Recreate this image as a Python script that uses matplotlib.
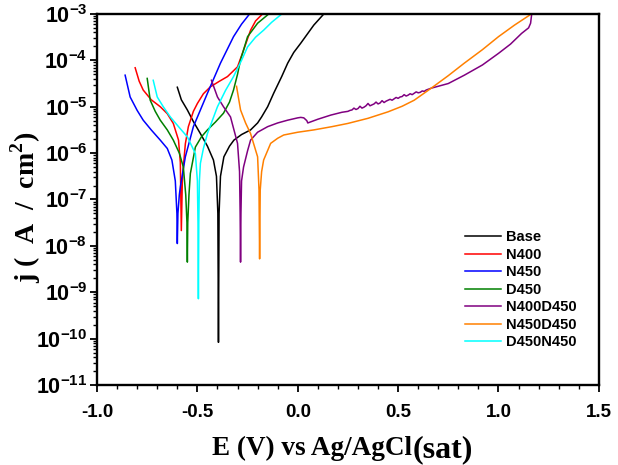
import matplotlib
matplotlib.use('Agg')
import matplotlib.pyplot as plt
from matplotlib.ticker import FixedLocator, MultipleLocator, FuncFormatter, LogLocator, NullFormatter
import numpy as np

plt.rcParams['font.family'] = ['Liberation Sans', 'DejaVu Sans']
plt.rcParams['mathtext.fontset'] = 'custom'
plt.rcParams['mathtext.sf'] = 'Liberation Sans:bold'
plt.rcParams['mathtext.bf'] = 'Liberation Serif:bold'
plt.rcParams['mathtext.rm'] = 'Liberation Serif:bold'

# potential (V) and log10 of current density for each sample
base_E = [-0.60,-0.58,-0.55,-0.52,-0.485,-0.45,-0.42,-0.405,-0.398,-0.395,-0.392,-0.385,-0.368,-0.34,-0.318,-0.28,-0.235,-0.20,-0.18,-0.15,-0.12,-0.08,-0.05,-0.02,0.015,0.05,0.08,0.13]
base_lj = [-4.58,-4.85,-5.07,-5.32,-5.58,-5.85,-6.15,-6.5,-7.3,-10.08,-7.3,-6.5,-6.08,-5.85,-5.72,-5.6,-5.5,-5.35,-5.22,-5.0,-4.71,-4.35,-4.06,-3.83,-3.63,-3.42,-3.24,-3.0]

n400_E = [-0.81,-0.79,-0.77,-0.73,-0.685,-0.65,-0.62,-0.594,-0.585,-0.58,-0.575,-0.57,-0.56,-0.545,-0.52,-0.50,-0.47,-0.435,-0.39,-0.35,-0.30,-0.27,-0.235,-0.21,-0.18]
n400_lj = [-4.16,-4.45,-4.64,-4.85,-5.0,-5.15,-5.36,-5.72,-6.2,-7.67,-6.6,-6.3,-5.8,-5.43,-5.1,-4.93,-4.72,-4.57,-4.45,-4.35,-4.14,-3.78,-3.35,-3.15,-3.02]

n450_E = [-0.86,-0.835,-0.80,-0.77,-0.73,-0.685,-0.65,-0.627,-0.61,-0.602,-0.60,-0.597,-0.59,-0.585,-0.56,-0.52,-0.45,-0.385,-0.32,-0.28,-0.24]
n450_lj = [-4.32,-4.79,-5.08,-5.29,-5.5,-5.72,-5.9,-6.15,-6.6,-7.3,-7.95,-7.3,-6.9,-6.73,-6.08,-5.43,-4.71,-4.06,-3.49,-3.22,-3.0]

d450_E = [-0.75,-0.735,-0.71,-0.685,-0.65,-0.62,-0.59,-0.57,-0.558,-0.552,-0.55,-0.548,-0.542,-0.535,-0.51,-0.48,-0.45,-0.41,-0.37,-0.34,-0.32,-0.30,-0.285,-0.25,-0.20,-0.15]
d450_lj = [-4.39,-4.86,-5.1,-5.29,-5.5,-5.72,-6.0,-6.3,-6.9,-7.5,-8.35,-7.5,-6.9,-6.44,-5.87,-5.65,-5.5,-5.33,-5.14,-4.9,-4.64,-4.3,-3.99,-3.49,-3.2,-3.02]

n400d450_E = [-0.43,-0.40,-0.37,-0.335,-0.30,-0.29,-0.287,-0.285,-0.283,-0.28,-0.27,-0.25,-0.235,-0.20,-0.15,-0.10,-0.05,0.0,0.015,0.03,0.045,0.05,0.10,0.165,0.22,
              0.25,0.26,0.27,0.28,0.29,0.30,0.31,0.32,0.33,0.34,0.35,0.36,0.37,0.38,0.39,0.40,0.41,0.42,0.43,0.44,0.45,0.46,0.47,0.48,0.49,0.50,0.51,0.52,
              0.53,0.54,0.55,0.56,0.57,0.58,0.59,0.60,0.61,0.62,0.63,0.64,0.665,0.75,0.83,0.92,1.0,1.06,1.115,1.15,1.16,1.165]
n400d450_lj = [-4.43,-4.79,-5.0,-5.22,-5.79,-6.4,-7.3,-8.35,-7.3,-6.6,-6.3,-5.95,-5.72,-5.55,-5.43,-5.35,-5.29,-5.24,-5.23,-5.24,-5.3,-5.35,-5.27,-5.18,-5.12,
               -5.1,-5.08,-5.07,-5.03,-5.06,-5.04,-4.99,-5.03,-5.01,-4.98,-4.93,-4.98,-4.96,-4.94,-4.9,-4.94,-4.92,-4.87,-4.91,-4.88,-4.86,-4.84,-4.86,-4.83,-4.8,-4.82,-4.79,-4.78,
               -4.74,-4.77,-4.75,-4.72,-4.74,-4.71,-4.68,-4.7,-4.69,-4.66,-4.67,-4.64,-4.6,-4.5,-4.32,-4.1,-3.85,-3.65,-3.42,-3.3,-3.2,-3.02]

n450d450_E = [-0.305,-0.285,-0.26,-0.235,-0.20,-0.193,-0.19,-0.187,-0.18,-0.17,-0.135,-0.10,-0.07,0.0,0.08,0.17,0.25,0.35,0.45,0.52,0.58,0.665,0.75,0.83,0.92,1.0,1.08,1.157]
n450d450_lj = [-4.56,-5.07,-5.35,-5.58,-6.08,-6.8,-8.28,-6.8,-6.4,-6.15,-5.79,-5.68,-5.61,-5.55,-5.5,-5.43,-5.36,-5.25,-5.11,-4.99,-4.86,-4.6,-4.33,-4.06,-3.77,-3.49,-3.24,-3.02]

d450n450_E = [-0.72,-0.70,-0.67,-0.635,-0.59,-0.55,-0.51,-0.50,-0.497,-0.495,-0.493,-0.49,-0.485,-0.47,-0.45,-0.40,-0.36,-0.32,-0.28,-0.25,-0.21,-0.17,-0.13,-0.085]
d450n450_lj = [-4.43,-4.79,-5.0,-5.22,-5.45,-5.65,-6.01,-6.6,-7.5,-9.14,-7.5,-6.6,-6.22,-5.9,-5.58,-5.0,-4.65,-4.35,-4.0,-3.71,-3.5,-3.35,-3.18,-3.02]

labels = ['Base', 'N400', 'N450', 'D450', 'N400D450', 'N450D450', 'D450N450']
colors = ['black', '#ff0000', '#0000ff', '#008000', '#800080', '#ff8000', '#00ffff']
series = [(base_E, base_lj), (n400_E, n400_lj), (n450_E, n450_lj), (d450_E, d450_lj),
          (n400d450_E, n400d450_lj), (n450d450_E, n450d450_lj), (d450n450_E, d450n450_lj)]

fig = plt.figure(figsize=(6.18, 4.65), dpi=100)
ax = fig.add_axes([0.157, 0.172, 0.812, 0.798])

for (E, lj), c, lab in zip(series, colors, labels):
    ax.plot(E, 10**np.array(lj), color=c, lw=1.1, label=lab)

ax.set_yscale('log')
ax.set_xlim(-1.0, 1.5)
ax.set_ylim(1e-11, 1e-3)
ax.yaxis.set_major_locator(FixedLocator([10.0**e for e in range(-11, -2)]))
ax.yaxis.set_minor_locator(LogLocator(base=10, subs=np.arange(2, 10), numticks=20))
ax.yaxis.set_minor_formatter(NullFormatter())
ax.yaxis.set_major_formatter(FuncFormatter(lambda v, p: r'$\mathsf{10^{%d}}$' % round(np.log10(v))))
ax.xaxis.set_major_locator(MultipleLocator(0.5))
ax.xaxis.set_minor_locator(MultipleLocator(0.1))
ax.xaxis.set_major_formatter(FuncFormatter(lambda v, p: '%.1f' % v))

for s in ax.spines.values():
    s.set_linewidth(1.7)
ax.tick_params(which='major', direction='out', length=5, width=1.3)
ax.tick_params(which='minor', direction='out', length=3, width=1.0)
ax.tick_params(axis='x', which='major', labelsize=13.5, pad=9)
ax.tick_params(axis='y', which='major', labelsize=15.5, pad=2)
for t in ax.get_xticklabels():
    t.set_fontweight('bold')

fig.text(0.042, 0.555, r'j (  A  /  cm$^{\mathbf{2}}$)', family='Liberation Serif', fontweight='bold',
         fontsize=20, rotation=90, ha='center', va='center')
fig.text(0.667, 0.022, 'E (V) vs Ag/AgCl', family='Liberation Serif', fontweight='bold', fontsize=19.5, ha='right', va='baseline')
fig.text(0.667, 0.016, '(sat)', family='Liberation Serif', fontweight='bold', fontsize=23, ha='left', va='baseline')

leg = ax.legend(loc='upper left', bbox_to_anchor=(0.733, 0.417), frameon=False, borderpad=0, borderaxespad=0,
                prop={'weight': 'bold', 'size': 10.5}, handlelength=2.5, handletextpad=0.35, labelspacing=0.24)

fig.savefig('out.png', dpi=100)
